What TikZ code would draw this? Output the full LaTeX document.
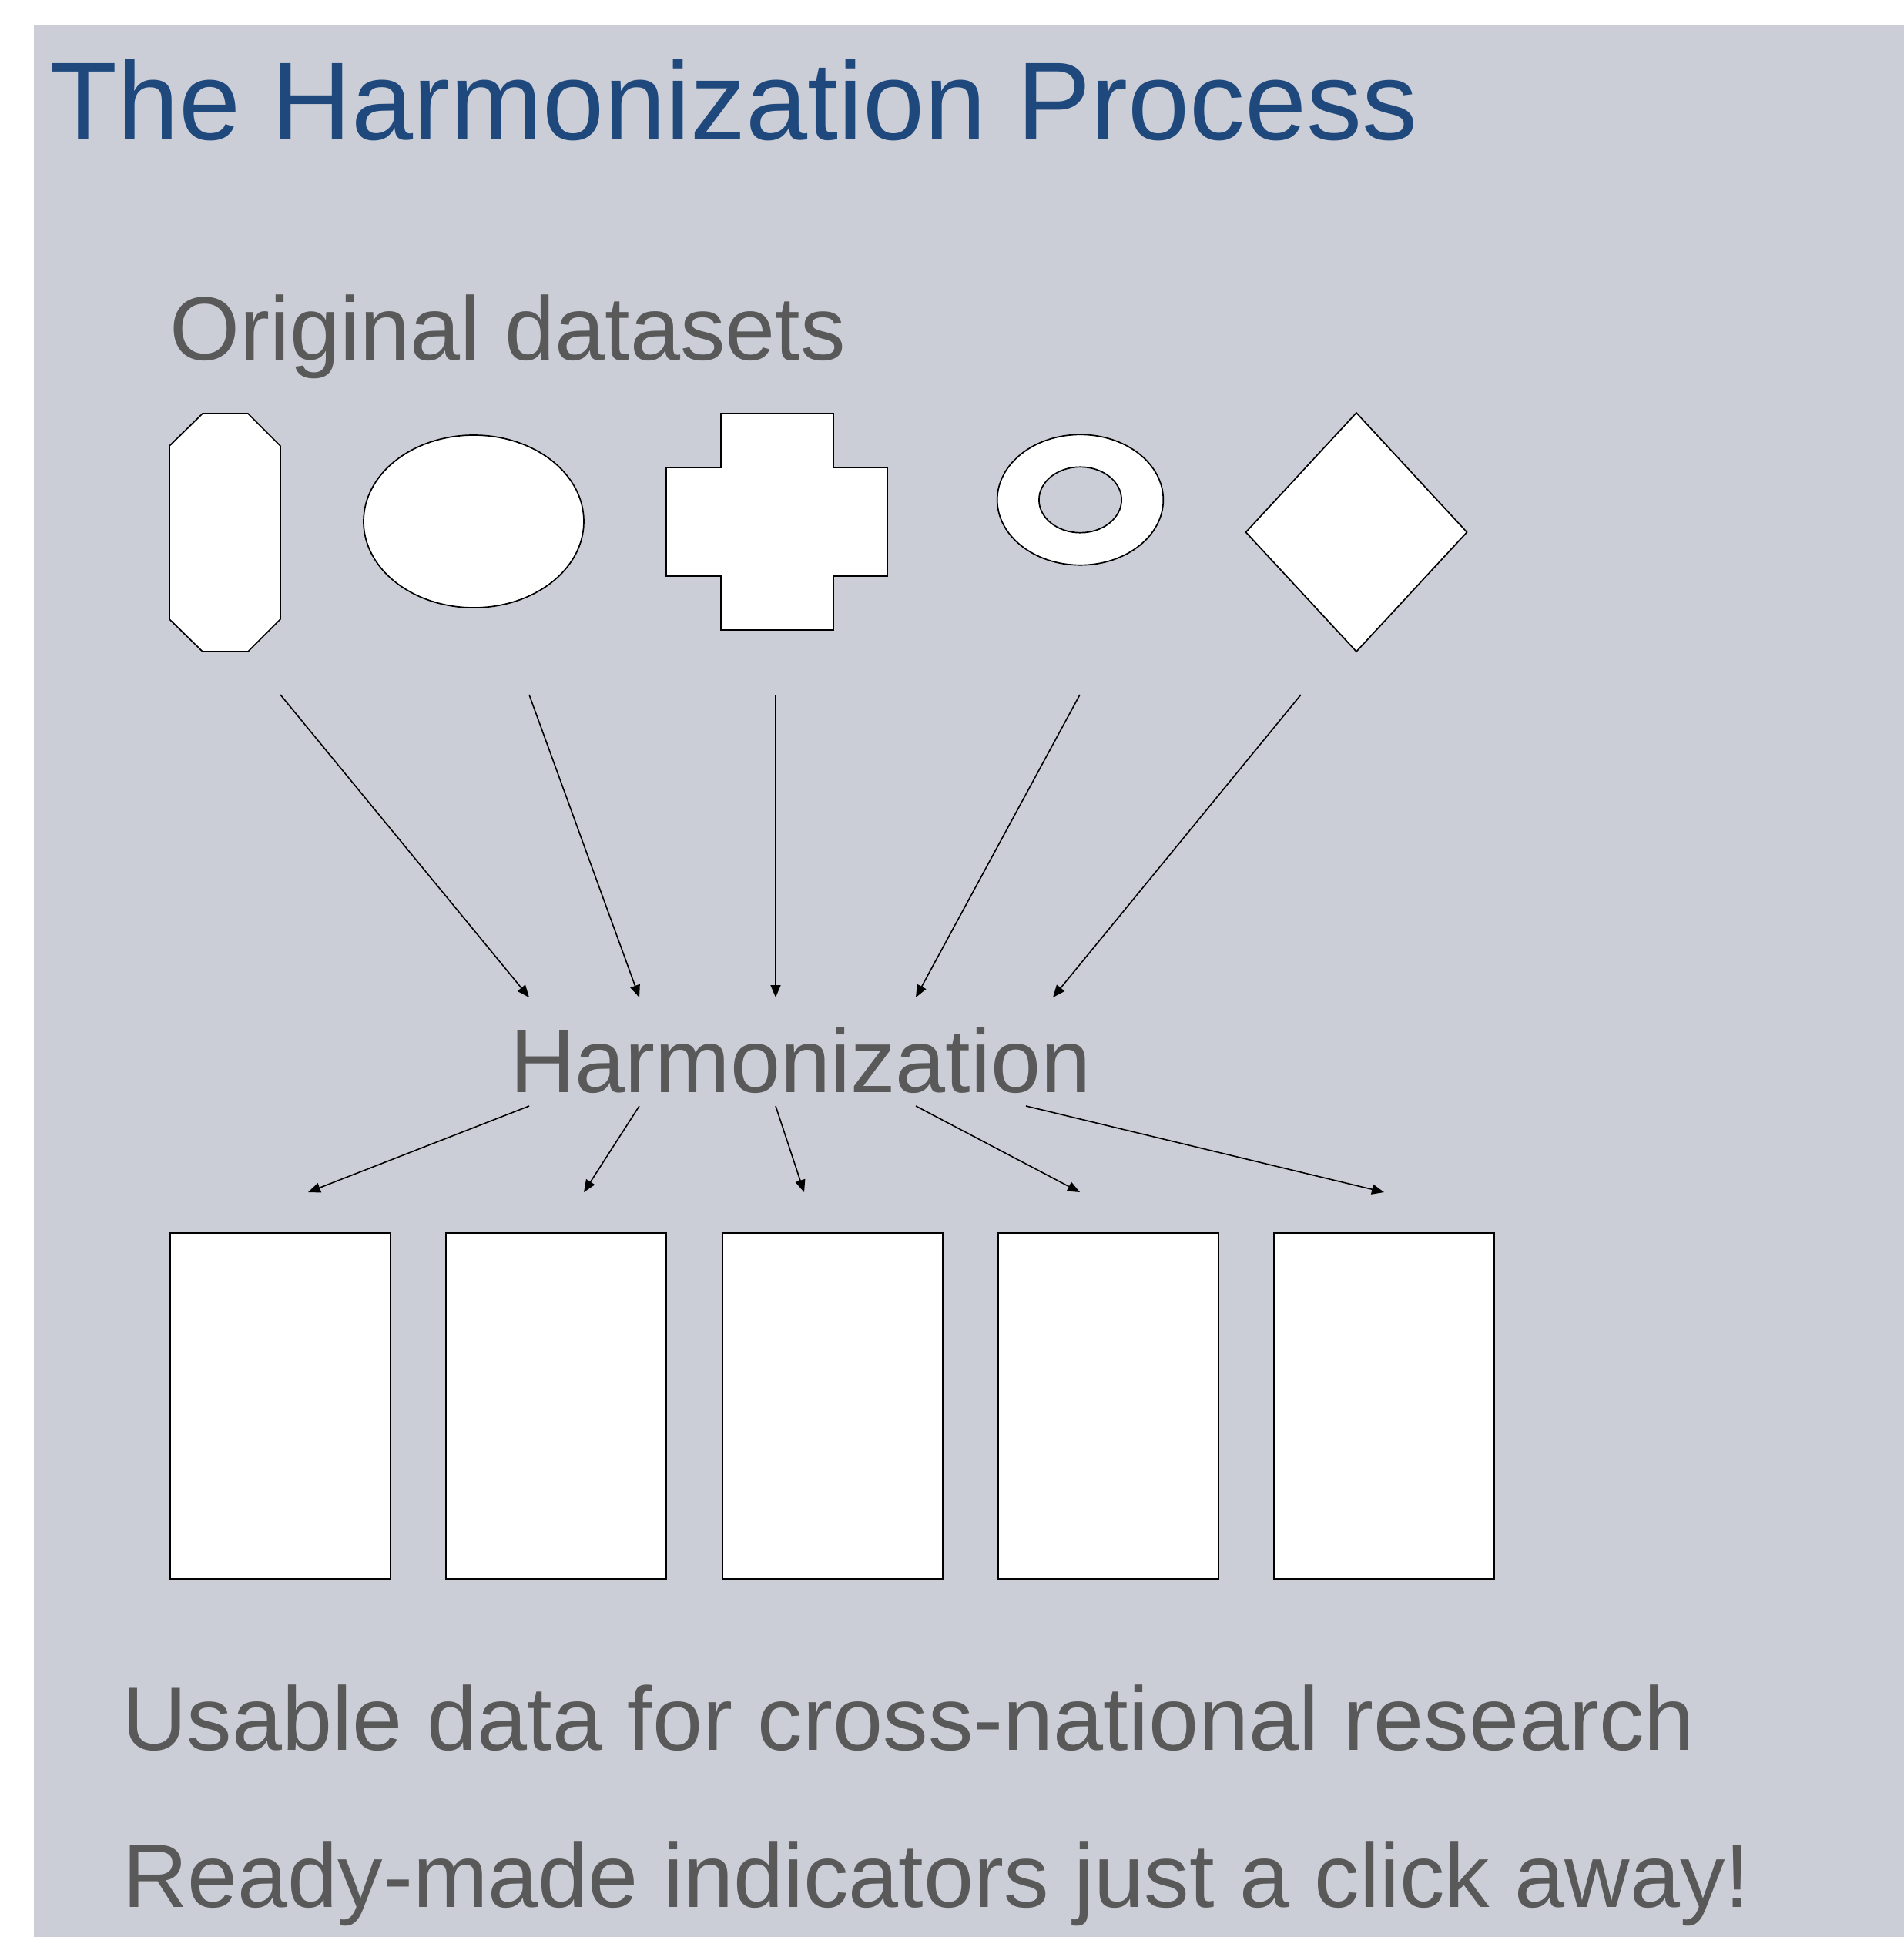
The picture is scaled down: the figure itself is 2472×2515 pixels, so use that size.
\documentclass[tikz,border=0pt]{standalone}
\usepackage{fontspec}
\setmainfont{Liberation Sans}
\usetikzlibrary{arrows.meta}

\definecolor{panelgray}{RGB}{203,206,214}
\definecolor{titleblue}{RGB}{31,73,125}
\definecolor{textgray}{RGB}{89,89,89}

\begin{document}
\begin{tikzpicture}[
        x=1pt, y=-1pt,
        dataset/.style={draw, fill=white, line width=1.7pt},
        outbox/.style={draw, fill=white, line width=1.7pt, minimum width=286.5pt, minimum height=449pt, inner sep=0pt},
        flow/.style={-{Triangle[length=16pt, width=13pt]}, line width=1.6pt},
        heading/.style={anchor=base west, inner sep=0pt, text=titleblue, font=\fontsize{144}{173}\selectfont},
        bigtext/.style={anchor=base west, inner sep=0pt, text=textgray, font=\fontsize{117}{140}\selectfont}
    ]
        % --- Page and panel ---
        \useasboundingbox (0,0) rectangle (2472,2515);
        \fill[panelgray] (44,32) rectangle (2472,2515);

        % --- Texts ---
        \node[heading] (title) at (64,182) {The Harmonization Process};
        \node[bigtext] (orig) at (220,467) {Original datasets};
        \node[bigtext] (harm) at (662,1418) {Harmonization};
        \node[bigtext] (usable) at (158,2272) {Usable data for cross-national research};
        \node[bigtext] (ready) at (159,2476) {Ready-made indicators just a click away!};

        % --- Original datasets (five different shapes) ---
        % Octagon
        \draw[dataset] (263,537) -- (322,537) -- (364,579) -- (364,804) -- (322,846)
            -- (263,846) -- (220,804) -- (220,579) -- cycle;
        % Ellipse
        \draw[dataset] (615,677) ellipse [x radius=143, y radius=112];
        % Cross
        \draw[dataset] (936,537) -- (1082,537) -- (1082,607) -- (1152,607) -- (1152,748)
            -- (1082,748) -- (1082,818) -- (936,818) -- (936,748) -- (865,748)
            -- (865,607) -- (936,607) -- cycle;
        % Ring
        \draw[dataset, even odd rule] (1402.5,649) ellipse [x radius=107.8, y radius=84.7]
            (1402.5,649) ellipse [x radius=53.6, y radius=42.7];
        % Diamond
        \draw[dataset] (1761,536) -- (1904.5,691) -- (1761,846) -- (1617.5,691) -- cycle;

        % --- Harmonized outputs ---
        \foreach \n/\cx in {1/364, 2/722, 3/1081, 4/1439, 5/1797}
            \node[outbox] (out\n) at (\cx,1825.5) {};

        % --- Arrow ends ---
        \foreach \n/\sx/\ex in {1/364/687, 2/687/830, 3/1007/1007, 4/1402/1189, 5/1689/1367} {
            \coordinate (src\n) at (\sx,902);
            \coordinate (in\n) at (\ex,1295);
        }
        \foreach \n/\sx/\ex in {1/687/400, 2/830/758, 3/1007/1044, 4/1189/1402, 5/1332/1797} {
            \coordinate (from\n) at (\sx,1436);
            \coordinate (to\n) at (\ex,1548);
        }

        % --- Arrows: datasets -> harmonization -> outputs ---
        \foreach \n in {1,...,5} {
            \draw[flow] (src\n) -- (in\n);
            \draw[flow] (from\n) -- (to\n);
        }

    \end{tikzpicture}
\end{document}
